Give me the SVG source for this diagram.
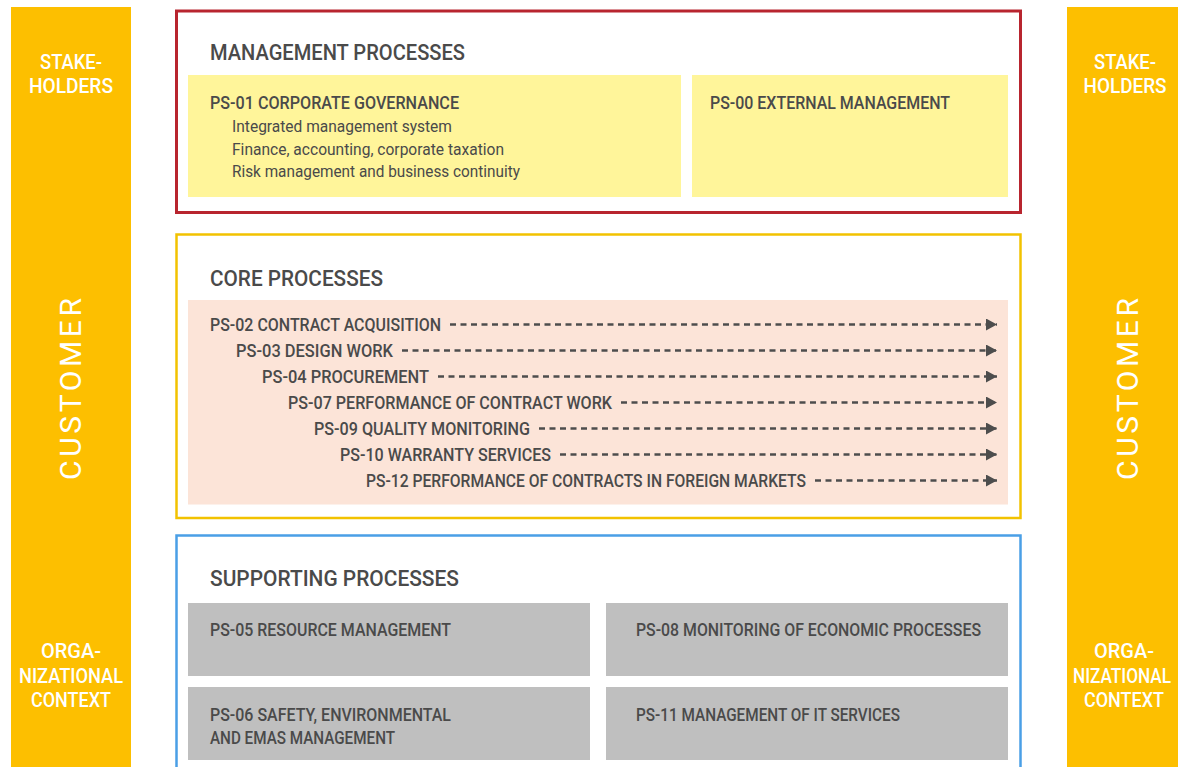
<svg xmlns="http://www.w3.org/2000/svg" width="1178" height="767" viewBox="0 0 1178 767">
<style>
.bar{fill:#fdbf00}
.bl{font-family:Roboto,"Liberation Sans",sans-serif;font-size:19.5px;font-weight:500;fill:#ffffff;text-anchor:middle}
.cust{font-family:Roboto,"Liberation Sans",sans-serif;font-size:30px;font-weight:400;fill:#ffffff;text-anchor:middle}
.h{font-family:Roboto,"Liberation Sans",sans-serif;font-size:21.5px;font-weight:500;fill:#4a4a4a}
.t{font-family:Roboto,"Liberation Sans",sans-serif;font-size:19px;font-weight:500;fill:#4a4a4a}
.s{font-family:Roboto,"Liberation Sans",sans-serif;font-size:17px;font-weight:400;fill:#4a4a4a}
.dash{stroke:#4d4d4d;stroke-width:2.6;stroke-dasharray:6 4.5;fill:none}
</style>
<defs>
<marker id="ah" markerUnits="userSpaceOnUse" markerWidth="11" markerHeight="12" refX="11" refY="6" orient="auto" viewBox="0 0 11 12">
<path d="M0,0 L11,6 L0,12 z" fill="#4d4d4d"/>
</marker>
</defs>
<rect width="1178" height="767" fill="#ffffff"/>

<g id="left-bar">
<rect class="bar" x="11" y="7" width="120" height="760"/>
<text class="bl" x="71" y="69" textLength="62" lengthAdjust="spacingAndGlyphs">STAKE-</text>
<text class="bl" x="71" y="93" textLength="84" lengthAdjust="spacingAndGlyphs">HOLDERS</text>
<text class="cust" transform="translate(81,389) rotate(-90)" x="0" y="0" textLength="182" lengthAdjust="spacing">CUSTOMER</text>
<text class="bl" x="71" y="657.5" textLength="60" lengthAdjust="spacingAndGlyphs">ORGA-</text>
<text class="bl" x="71" y="682.5" textLength="104" lengthAdjust="spacingAndGlyphs">NIZATIONAL</text>
<text class="bl" x="71" y="706.5" textLength="80" lengthAdjust="spacingAndGlyphs">CONTEXT</text>
</g>

<g id="right-bar">
<rect class="bar" x="1067" y="7" width="111" height="760"/>
<text class="bl" x="1125" y="69" textLength="62" lengthAdjust="spacingAndGlyphs">STAKE-</text>
<text class="bl" x="1125" y="93" textLength="83" lengthAdjust="spacingAndGlyphs">HOLDERS</text>
<text class="cust" transform="translate(1138,389) rotate(-90)" x="0" y="0" textLength="182" lengthAdjust="spacing">CUSTOMER</text>
<text class="bl" x="1124" y="657.5" textLength="60" lengthAdjust="spacingAndGlyphs">ORGA-</text>
<text class="bl" x="1122" y="682.5" textLength="98" lengthAdjust="spacingAndGlyphs">NIZATIONAL</text>
<text class="bl" x="1124" y="706.5" textLength="80" lengthAdjust="spacingAndGlyphs">CONTEXT</text>
</g>

<g id="management">
<rect x="176.5" y="11" width="844" height="201.5" fill="none" stroke="#b8252f" stroke-width="3"/>
<text class="h" x="210" y="59.5" textLength="255" lengthAdjust="spacingAndGlyphs">MANAGEMENT PROCESSES</text>
</g>
<g id="ps01">
<rect x="188" y="75" width="493" height="122" fill="#fff59a"/>
<text class="t" x="210" y="108.7" textLength="249" lengthAdjust="spacingAndGlyphs">PS-01 CORPORATE GOVERNANCE</text>
<text class="s" x="232" y="131.7" textLength="220" lengthAdjust="spacingAndGlyphs">Integrated management system</text>
<text class="s" x="232" y="154.5" textLength="272" lengthAdjust="spacingAndGlyphs">Finance, accounting, corporate taxation</text>
<text class="s" x="232" y="177" textLength="288" lengthAdjust="spacingAndGlyphs">Risk management and business continuity</text>
</g>
<g id="ps00">
<rect x="692" y="75" width="316" height="122" fill="#fff59a"/>
<text class="t" x="710" y="108.7" textLength="240" lengthAdjust="spacingAndGlyphs">PS-00 EXTERNAL MANAGEMENT</text>
</g>

<g id="core">
<rect x="176.5" y="234.5" width="844" height="283.5" fill="none" stroke="#f2c200" stroke-width="2.5"/>
<text class="h" x="210" y="285.5" textLength="173" lengthAdjust="spacingAndGlyphs">CORE PROCESSES</text>
<rect x="188" y="300" width="820" height="204.5" fill="#fce4d8"/>
</g>
<g id="ps02"><text class="t" x="210" y="331" textLength="231" lengthAdjust="spacingAndGlyphs">PS-02 CONTRACT ACQUISITION</text></g>
<g id="ps03"><text class="t" x="236" y="357" textLength="157" lengthAdjust="spacingAndGlyphs">PS-03 DESIGN WORK</text></g>
<g id="ps04"><text class="t" x="262" y="383" textLength="167" lengthAdjust="spacingAndGlyphs">PS-04 PROCUREMENT</text></g>
<g id="ps07"><text class="t" x="288" y="409" textLength="324" lengthAdjust="spacingAndGlyphs">PS-07 PERFORMANCE OF CONTRACT WORK</text></g>
<g id="ps09"><text class="t" x="314" y="435" textLength="216" lengthAdjust="spacingAndGlyphs">PS-09 QUALITY MONITORING</text></g>
<g id="ps10"><text class="t" x="340" y="461" textLength="211" lengthAdjust="spacingAndGlyphs">PS-10 WARRANTY SERVICES</text></g>
<g id="ps12"><text class="t" x="366" y="487" textLength="440" lengthAdjust="spacingAndGlyphs">PS-12 PERFORMANCE OF CONTRACTS IN FOREIGN MARKETS</text></g>

<g id="connectors">
<line class="dash" x1="450" y1="324.5" x2="997" y2="324.5" marker-end="url(#ah)"/>
<line class="dash" x1="402" y1="350.5" x2="997" y2="350.5" marker-end="url(#ah)"/>
<line class="dash" x1="438" y1="376.5" x2="997" y2="376.5" marker-end="url(#ah)"/>
<line class="dash" x1="621" y1="402.5" x2="997" y2="402.5" marker-end="url(#ah)"/>
<line class="dash" x1="539" y1="428.5" x2="997" y2="428.5" marker-end="url(#ah)"/>
<line class="dash" x1="560" y1="454.5" x2="997" y2="454.5" marker-end="url(#ah)"/>
<line class="dash" x1="815" y1="480.5" x2="997" y2="480.5" marker-end="url(#ah)"/>
</g>

<g id="supporting">
<rect x="176.5" y="535.5" width="844" height="260" fill="none" stroke="#4a9fe6" stroke-width="2.5"/>
<text class="h" x="210" y="585.5" textLength="249" lengthAdjust="spacingAndGlyphs">SUPPORTING PROCESSES</text>
</g>
<g id="ps05">
<rect x="188" y="603" width="402" height="73" fill="#bfbfbf"/>
<text class="t" x="210" y="635.7" textLength="241" lengthAdjust="spacingAndGlyphs">PS-05 RESOURCE MANAGEMENT</text>
</g>
<g id="ps08">
<rect x="606" y="603" width="402" height="73" fill="#bfbfbf"/>
<text class="t" x="636" y="635.7" textLength="345" lengthAdjust="spacingAndGlyphs">PS-08 MONITORING OF ECONOMIC PROCESSES</text>
</g>
<g id="ps06">
<rect x="188" y="687" width="402" height="73" fill="#bfbfbf"/>
<text class="t" x="210" y="720.5" textLength="241" lengthAdjust="spacingAndGlyphs">PS-06 SAFETY, ENVIRONMENTAL</text>
<text class="t" x="210" y="743.5" textLength="185" lengthAdjust="spacingAndGlyphs">AND EMAS MANAGEMENT</text>
</g>
<g id="ps11">
<rect x="606" y="687" width="402" height="73" fill="#bfbfbf"/>
<text class="t" x="636" y="720.5" textLength="264" lengthAdjust="spacingAndGlyphs">PS-11 MANAGEMENT OF IT SERVICES</text>
</g>
</svg>
